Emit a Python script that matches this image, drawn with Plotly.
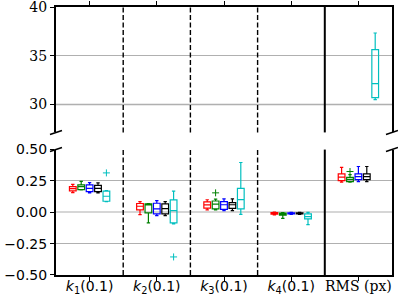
import plotly.graph_objects as go

# ---------------- data ----------------
tick_labels = [
    "<i>k</i><sub>1</sub>(0.1)",
    "<i>k</i><sub>2</sub>(0.1)",
    "<i>k</i><sub>3</sub>(0.1)",
    "<i>k</i><sub>4</sub>(0.1)",
    "<span style='font-family:DejaVu Serif'>RMS (px)</span>",
]
series_colors = ["#ff0000", "#008000", "#0000ff", "#000000", "#00bfbf"]

# per series: values for groups k1, k2, k3, k4, RMS
red_lo = [0.157, -0.018, 0.020, -0.020, 0.240]
red_q1 = [0.170, 0.020, 0.034, -0.014, 0.253]
red_med = [0.188, 0.048, 0.059, -0.008, 0.280]
red_q3 = [0.205, 0.070, 0.083, -0.003, 0.306]
red_hi = [0.222, 0.085, 0.100, 0.002, 0.358]

green_lo = [0.178, -0.085, 0.019, -0.048, 0.240]
green_q1 = [0.180, -0.005, 0.028, -0.022, 0.245]
green_med = [0.205, 0.060, 0.065, -0.012, 0.262]
green_q3 = [0.219, 0.067, 0.090, -0.006, 0.278]
green_hi = [0.246, 0.070, 0.105, -0.002, 0.300]

blue_lo = [0.155, -0.026, 0.014, -0.016, 0.245]
blue_q1 = [0.165, -0.013, 0.024, -0.012, 0.260]
blue_med = [0.190, 0.027, 0.060, -0.008, 0.285]
blue_q3 = [0.219, 0.072, 0.085, -0.004, 0.306]
blue_hi = [0.237, 0.093, 0.107, 0.000, 0.365]

black_lo = [0.155, -0.026, 0.014, -0.016, 0.245]
black_q1 = [0.165, -0.013, 0.032, -0.012, 0.260]
black_med = [0.190, 0.030, 0.060, -0.008, 0.285]
black_q3 = [0.215, 0.067, 0.077, -0.004, 0.306]
black_hi = [0.235, 0.085, 0.107, 0.000, 0.365]

cyan_lo = [0.085, -0.093, -0.016, -0.098, 30.48]
cyan_q1 = [0.088, -0.085, 0.027, -0.053, 30.69]
cyan_med = [0.128, 0.014, 0.101, -0.034, 32.13]
cyan_q3 = [0.168, 0.099, 0.191, -0.013, 35.62]
cyan_hi = [0.172, 0.168, 0.397, 0.000, 37.33]

# outliers: (series index, group index, value)
outlier_series = [1, 1, 4, 4]
outlier_group = [2, 4, 0, 1]
outlier_value = [0.155, 0.325, 0.314, -0.356]

# ---------------- figure ----------------
stats = [
    (red_lo, red_q1, red_med, red_q3, red_hi),
    (green_lo, green_q1, green_med, green_q3, green_hi),
    (blue_lo, blue_q1, blue_med, blue_q3, blue_hi),
    (black_lo, black_q1, black_med, black_q3, black_hi),
    (cyan_lo, cyan_q1, cyan_med, cyan_q3, cyan_hi),
]
offsets = [-0.25, -0.125, 0.0, 0.125, 0.25]
n_groups = len(tick_labels)
TOP_THRESHOLD = 10.0

fig = go.Figure()
for si, (lo, q1, med, q3, hi) in enumerate(stats):
    for axis in ("y", "y2"):
        idx = [g for g in range(n_groups) if (med[g] > TOP_THRESHOLD) == (axis == "y2")]
        if not idx:
            continue
        fig.add_trace(go.Box(
            x=[g + offsets[si] for g in idx],
            lowerfence=[lo[g] for g in idx],
            q1=[q1[g] for g in idx],
            median=[med[g] for g in idx],
            q3=[q3[g] for g in idx],
            upperfence=[hi[g] for g in idx],
            width=0.1,
            whiskerwidth=0.5,
            line=dict(color=series_colors[si], width=1.2),
            fillcolor="rgba(0,0,0,0)",
            boxpoints=False,
            showlegend=False,
            hoverinfo="skip",
            yaxis=axis,
            xaxis="x" if axis == "y" else "x2",
        ))

for s, g, v in zip(outlier_series, outlier_group, outlier_value):
    fig.add_trace(go.Scatter(
        x=[g + offsets[s]], y=[v], mode="markers",
        marker=dict(symbol="cross-thin", size=5,
                    line=dict(color=series_colors[s], width=1)),
        showlegend=False, hoverinfo="skip",
        yaxis="y2" if v > TOP_THRESHOLD else "y",
        xaxis="x2" if v > TOP_THRESHOLD else "x",
    ))

bot_dom = [0.0, 0.468]
top_dom = [0.532, 1.0]

shapes = []
# group separators
for xs, dash, w in [(0.5, "5px,2.5px", 1.4), (1.5, "5px,2.5px", 1.4),
                    (2.5, "5px,2.5px", 1.4), (3.5, "solid", 2)]:
    for yr, xr in (("y domain", "x"), ("y2 domain", "x2")):
        shapes.append(dict(type="line", xref=xr, yref=yr, x0=xs, x1=xs, y0=0, y1=1,
                           line=dict(color="black", width=w, dash=dash), layer="above"))
# light line at 30 (top)
shapes.append(dict(type="line", xref="x2 domain", yref="y2", x0=0, x1=1, y0=30, y1=30,
                   line=dict(color="#d6d6d6", width=2), layer="below"))
# break marks
dx = 6 / 336
dy = 2 / 268
for yc in (bot_dom[1], top_dom[0]):
    for xc in (0.0, 1.0):
        shapes.append(dict(type="line", xref="paper", yref="paper",
                           x0=xc - dx, x1=xc + dx, y0=yc - dy, y1=yc + dy,
                           line=dict(color="black", width=1.5)))

sans = dict(family="DejaVu Sans", size=14, color="black")
serif = dict(family="DejaVu Serif", size=14, color="black")

fig.update_layout(
    width=398, height=298,
    autosize=False,
    margin=dict(l=56, r=6, t=7, b=23, autoexpand=False),
    paper_bgcolor="white", plot_bgcolor="white",
    boxmode="overlay",
    shapes=shapes,
    xaxis=dict(domain=[0, 1], range=[-0.5, n_groups - 0.5], anchor="y",
               automargin=False, ticklabeloverflow="allow", ticklabelstandoff=-7,
               showline=True, linecolor="black", linewidth=2, mirror=False,
               ticks="outside", ticklen=4, tickwidth=1, tickcolor="black",
               tickvals=list(range(n_groups)), ticktext=tick_labels,
               tickfont=sans, showgrid=False, zeroline=False),
    xaxis2=dict(matches="x", anchor="y2", side="top", automargin=False,
                showline=True, linecolor="black", linewidth=2,
                ticks="outside", ticklen=4, tickwidth=1, tickcolor="black",
                tickvals=list(range(n_groups)), showticklabels=False,
                showgrid=False, zeroline=False),
    yaxis=dict(domain=bot_dom, range=[-0.5, 0.5], anchor="x", automargin=False,
               ticklabeloverflow="allow",
               showline=True, linecolor="black", linewidth=2, mirror=True,
               ticks="outside", ticklen=4, tickwidth=1, tickcolor="black",
               tickvals=[-0.5, -0.25, 0, 0.25, 0.5],
               ticktext=["\u22120.50", "\u22120.25", "0.00", "0.25", "0.50"],
               tickfont=sans, showgrid=True, gridcolor="#b0b0b0", gridwidth=1,
               zeroline=True, zerolinecolor="#d6d6d6", zerolinewidth=2),
    yaxis2=dict(domain=top_dom, range=[27.12, 40], anchor="x2", automargin=False,
                ticklabeloverflow="allow",
                showline=True, linecolor="black", linewidth=2, mirror=True,
                ticks="outside", ticklen=4, tickwidth=1, tickcolor="black",
                tickvals=[30, 35, 40], ticktext=["30", "35", "40"],
                tickfont=serif, showgrid=True, gridcolor="#b0b0b0", gridwidth=1,
                zeroline=False),
)

fig.write_html(
    "out.html",
    config={"displayModeBar": False, "responsive": False},
    post_script="document.body.style.margin='0';document.body.style.overflow='hidden';",
)
